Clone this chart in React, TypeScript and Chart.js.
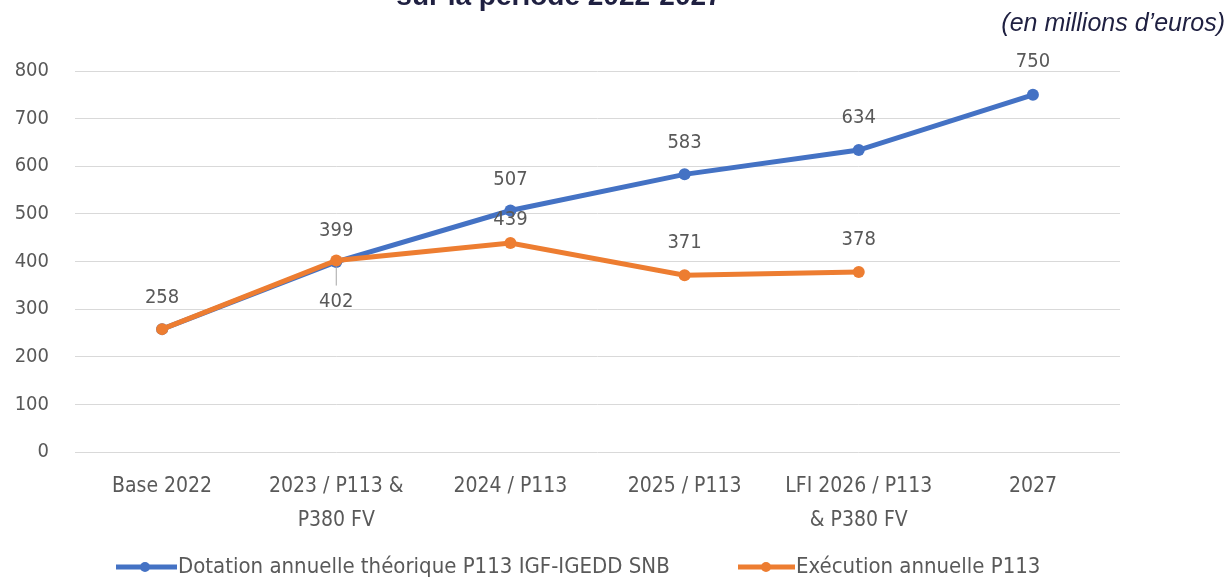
import React, { useEffect, useRef } from "react";
import { Chart, registerables } from "chart.js";

Chart.register(...registerables);

const categories: (string | string[])[] = [
  "Base 2022",
  ["2023 / P113 &", "P380 FV"],
  "2024 / P113",
  "2025 / P113",
  ["LFI 2026 / P113", "& P380 FV"],
  "2027",
];
const dotationValues = [258, 399, 507, 583, 634, 750];
const executionValues: (number | null)[] = [258, 402, 439, 371, 378, null];
const dotationLabel = "Dotation annuelle théorique P113 IGF-IGEDD SNB";
const executionLabel = "Exécution annuelle P113";
const yTicks = [0, 100, 200, 300, 400, 500, 600, 700, 800];
const titleText = "sur la période 2022-2027";
const unitText = "(en millions d’euros)";

// label placement (styling only): vertical offset in px from the point, null = hidden
const dotationLabelOffsets: (number | null)[] = [-31, -31, -31, -32, -32, -33];
const executionLabelOffsets: (number | null)[] = [null, 41, -23, -33, -32, null];

const BLUE = "#4472c4";
const ORANGE = "#ed7d31";
const GRAY = "#595959";
const FONT = "'DejaVu Sans Condensed', 'DejaVu Sans', sans-serif";

const overlayPlugin = {
  id: "overlay",
  afterDatasetsDraw(chart: any) {
    const ctx = chart.ctx;
    ctx.save();
    const m1 = chart.getDatasetMeta(1);
    const p = m1.data[1];
    if (p) {
      ctx.strokeStyle = "#a6a6a6";
      ctx.lineWidth = 1;
      ctx.beginPath();
      ctx.moveTo(p.x, p.y + 6);
      ctx.lineTo(p.x, p.y + 25);
      ctx.stroke();
    }
    ctx.font = `20px ${FONT}`;
    ctx.fillStyle = GRAY;
    ctx.textAlign = "center";
    ctx.textBaseline = "middle";
    const sets: [number, (number | null)[], (number | null)[]][] = [
      [0, dotationValues, dotationLabelOffsets],
      [1, executionValues, executionLabelOffsets],
    ];
    for (const [idx, vals, offs] of sets) {
      const meta = chart.getDatasetMeta(idx);
      vals.forEach((v, i) => {
        const off = offs[i];
        if (v == null || off == null) return;
        const el = meta.data[i];
        ctx.fillText(String(v), el.x, el.y + off);
      });
    }
    ctx.restore();
  },
  afterDraw(chart: any) {
    const ctx = chart.ctx;
    ctx.save();
    ctx.fillStyle = "#1f2041";
    ctx.font = "bold 28px 'Liberation Sans', Arial, sans-serif";
    ctx.textAlign = "center";
    ctx.textBaseline = "alphabetic";
    ctx.fillText(titleText, 559, 5);
    ctx.font = "italic 25px 'Liberation Sans', Arial, sans-serif";
    ctx.textAlign = "right";
    ctx.fillText(unitText, 1225, 31);

    const drawItem = (x0: number, x1: number, cx: number, color: string, text: string) => {
      const y = 567;
      ctx.strokeStyle = color;
      ctx.lineWidth = 5;
      ctx.beginPath();
      ctx.moveTo(x0, y);
      ctx.lineTo(x1, y);
      ctx.stroke();
      ctx.fillStyle = color;
      ctx.beginPath();
      ctx.arc(cx, y, 5, 0, Math.PI * 2);
      ctx.fill();
      ctx.fillStyle = GRAY;
      ctx.font = `22px ${FONT}`;
      ctx.textAlign = "left";
      ctx.textBaseline = "middle";
      ctx.fillText(text, x1 + 1, y);
    };
    drawItem(116, 177, 145, BLUE, dotationLabel);
    drawItem(738, 795, 766, ORANGE, executionLabel);
    ctx.restore();
  },
};

export default function App() {
  const ref = useRef<HTMLCanvasElement | null>(null);
  useEffect(() => {
    if (!ref.current) return;
    const chart = new Chart(ref.current, {
      type: "line",
      data: {
        labels: categories,
        datasets: [
          {
            label: dotationLabel,
            data: dotationValues,
            borderColor: BLUE,
            backgroundColor: BLUE,
            borderWidth: 5,
            pointRadius: 6,
            pointBorderWidth: 0,
            pointBackgroundColor: BLUE,
            tension: 0,
            order: 1,
          },
          {
            label: executionLabel,
            data: executionValues,
            borderColor: ORANGE,
            backgroundColor: ORANGE,
            borderWidth: 5,
            pointRadius: 6,
            pointBorderWidth: 0,
            pointBackgroundColor: ORANGE,
            tension: 0,
            order: 0,
          },
        ],
      },
      options: {
        responsive: false,
        animation: false,
        layout: { padding: { top: 71, right: 109, left: 0, bottom: 0 } },
        plugins: {
          legend: { display: false },
          title: { display: false },
          tooltip: { enabled: false },
        },
        scales: {
          x: {
            offset: true,
            grid: { display: false, drawTicks: false, offset: true },
            border: { display: false },
            ticks: {
              color: GRAY,
              font: { family: FONT, size: 21, lineHeight: 1.6 },
              padding: 18,
              maxRotation: 0,
              autoSkip: false,
            },
            afterFit(axis: any) {
              axis.height = 127;
            },
          },
          y: {
            min: 0,
            max: 800,
            afterBuildTicks(axis: any) {
              axis.ticks = yTicks.map((v) => ({ value: v }));
            },
            grid: { color: "#d9d9d9", lineWidth: 1, drawTicks: false },
            border: { display: false },
            ticks: {
              color: GRAY,
              font: { family: FONT, size: 20 },
              padding: 26,
            },
            afterFit(axis: any) {
              axis.width = 75;
            },
          },
        },
      },
      plugins: [overlayPlugin],
    });
    return () => chart.destroy();
  }, []);
  return (
    <div style={{ position: "fixed", left: 0, top: 0, width: 1229, height: 579, background: "#fff" }}>
      <canvas ref={ref} width={1229} height={579} style={{ display: "block" }} />
    </div>
  );
}
